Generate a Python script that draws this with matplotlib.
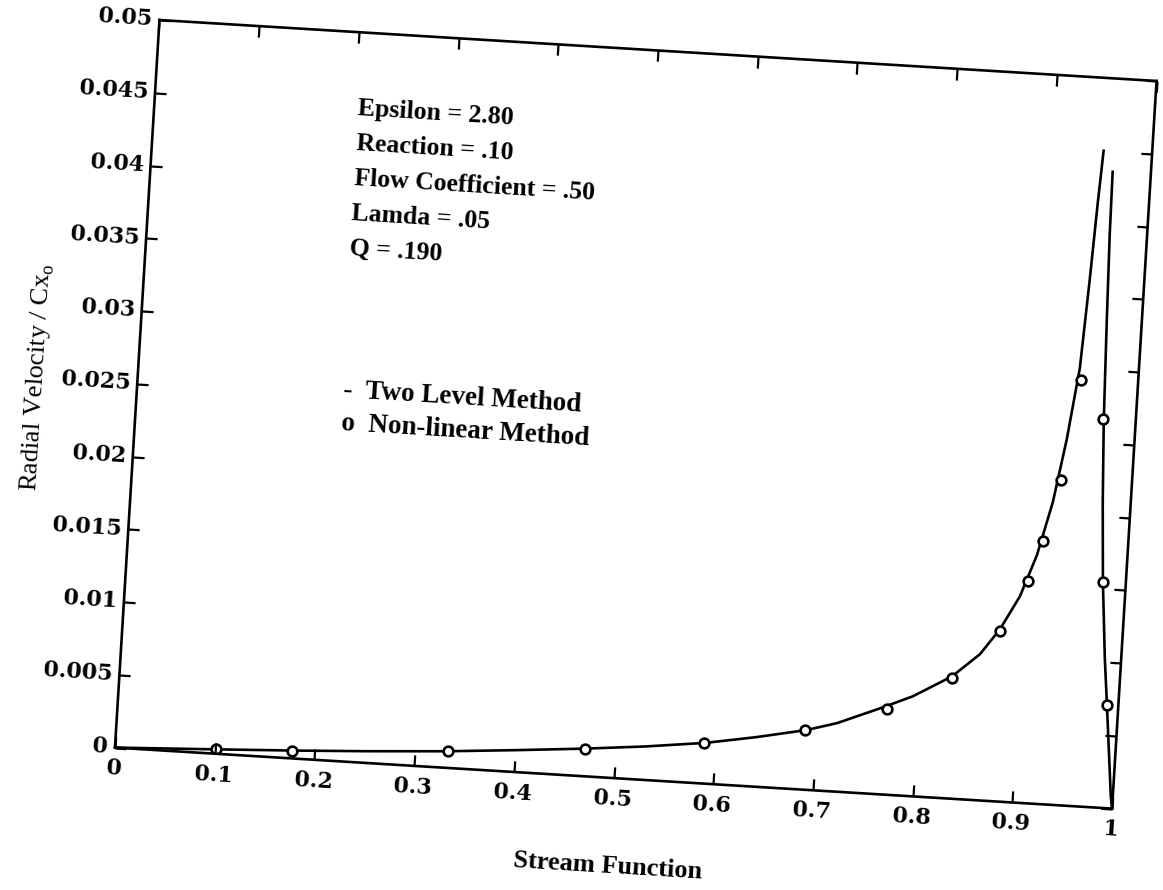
import numpy as np
import matplotlib
matplotlib.use('Agg')
import matplotlib.pyplot as plt
from matplotlib.transforms import Affine2D
import mpl_toolkits.axisartist.floating_axes as floating_axes
from mpl_toolkits.axisartist.grid_finder import FixedLocator, DictFormatter

# Two Level Method (solid line); NaN splits the two branches near the tip
two_level_x = [0, 0.1, 0.18, 0.25, 0.33, 0.4, 0.47, 0.53, 0.59, 0.64, 0.69,
               0.72, 0.762, 0.794, 0.832, 0.8585, 0.877, 0.895, 0.9094,
               0.9221, 0.9322, 0.9409, 0.9454, 0.9487, 0.9514, np.nan,
               0.9617, 0.9626, 0.965, 0.968, 0.972, 0.977, 0.9836, 0.9886,
               0.998, 1.0]
two_level_y = [0, 0.0003, 0.00055, 0.0008, 0.00113, 0.0015, 0.0019, 0.0023,
               0.0028, 0.0034, 0.0041, 0.0047, 0.00589, 0.00685, 0.00838,
               0.01001, 0.0118, 0.01415, 0.01702, 0.02072, 0.02509, 0.03001,
               0.03614, 0.04138, 0.0450, np.nan,
               0.0436, 0.0393, 0.0332, 0.02655, 0.02093, 0.0155, 0.01026,
               0.00705, 0.00084, 0.0]

# Non-linear Method (open circles)
nonlin_x = [0.101, 0.177, 0.333, 0.470, 0.588, 0.688, 0.769, 0.832, 0.877,
            0.902, 0.915, 0.929, 0.943, 0.967, 0.977, 0.989]
nonlin_y = [0.0003, 0.00054, 0.00113, 0.0019, 0.00275, 0.0041, 0.0059,
            0.0083, 0.0117, 0.0152, 0.0180, 0.0223, 0.0292, 0.0266, 0.0155,
            0.0071]

x_ticks = [0, 0.1, 0.2, 0.3, 0.4, 0.5, 0.6, 0.7, 0.8, 0.9, 1.0]
x_tick_labels = ['0', '0.1', '0.2', '0.3', '0.4', '0.5', '0.6', '0.7',
                 '0.8', '0.9', '1']
y_ticks = [0, 0.005, 0.01, 0.015, 0.02, 0.025, 0.03, 0.035, 0.04, 0.045, 0.05]
y_tick_labels = ['0', '0.005', '0.01', '0.015', '0.02', '0.025', '0.03',
                 '0.035', '0.04', '0.045', '0.05']

params = ['Epsilon = 2.80', 'Reaction = .10', 'Flow Coefficient = .50',
          'Lamda = .05', 'Q = .190']
legend_lines = ['-  Two Level Method', 'o  Non-linear Method']

# the scanned page is tilted a little clockwise
tilt = -3.5
frame_w, frame_h = 999, 729          # frame size in pixels
tr = Affine2D().scale(frame_w, frame_h / 0.05).rotate_deg(tilt)

grid_helper = floating_axes.GridHelperCurveLinear(
    tr, extremes=(0, 1, 0, 0.05),
    grid_locator1=FixedLocator(x_ticks),
    tick_formatter1=DictFormatter(dict(zip(x_ticks, x_tick_labels))),
    grid_locator2=FixedLocator(y_ticks),
    tick_formatter2=DictFormatter(dict(zip(y_ticks, y_tick_labels))))

fig = plt.figure(figsize=(11.63, 8.90), dpi=100)
ax = fig.add_axes([0.0899, 0.0826, 0.9135, 0.9038],
                  axes_class=floating_axes.FloatingAxes,
                  grid_helper=grid_helper)

ax.axis[:].line.set_linewidth(1.9)
ax.axis[:].major_ticks.set_tick_out(False)
ax.axis[:].major_ticks.set_ticksize(8)
ax.axis[:].major_ticks.set_markeredgewidth(1.6)

for side in ['bottom', 'left']:
    tl = ax.axis[side].major_ticklabels
    tl.set_fontfamily('DejaVu Serif')
    tl.set_fontweight('bold')
    tl.set_fontsize(16)
ax.axis['bottom'].major_ticklabels.set_pad(8)
ax.axis['left'].major_ticklabels.set_pad(5)

ax.axis['bottom'].label.set_text('Stream Function')
ax.axis['bottom'].label.set_fontfamily('Liberation Serif')
ax.axis['bottom'].label.set_fontsize(19)
ax.axis['bottom'].label.set_fontweight('bold')
ax.axis['bottom'].label.set_pad(36)
ax.axis['bottom'].label.set_visible(True)

ax.axis['left'].label.set_text(r'Radial Velocity / Cx$_\mathregular{o}$')
ax.axis['left'].label.set_fontfamily('Liberation Serif')
ax.axis['left'].label.set_fontsize(19)
ax.axis['left'].label.set_pad(8)
ax.axis['left'].label.set_visible(True)

aux = ax.get_aux_axes(tr)
aux.patch = ax.patch
ax.patch.zorder = 0.9

aux.plot(two_level_x, two_level_y, color='black', lw=1.9)
aux.plot(nonlin_x, nonlin_y, linestyle='none', marker='o', ms=7,
         mfc='white', mec='black', mew=1.9)

for i, s in enumerate(params):
    aux.text(0.204, 0.05 * (0.895 - i * 0.048), s, rotation=tilt,
             rotation_mode='anchor', family='Liberation Serif',
             fontweight='bold', fontsize=18.5, va='center', ha='left')

for i, s in enumerate(legend_lines):
    aux.text(0.206, 0.05 * (0.508 - i * 0.045), s, rotation=tilt,
             rotation_mode='anchor', family='Liberation Serif',
             fontweight='bold', fontsize=19.5, va='center', ha='left')

fig.savefig('out.png', dpi=100)
